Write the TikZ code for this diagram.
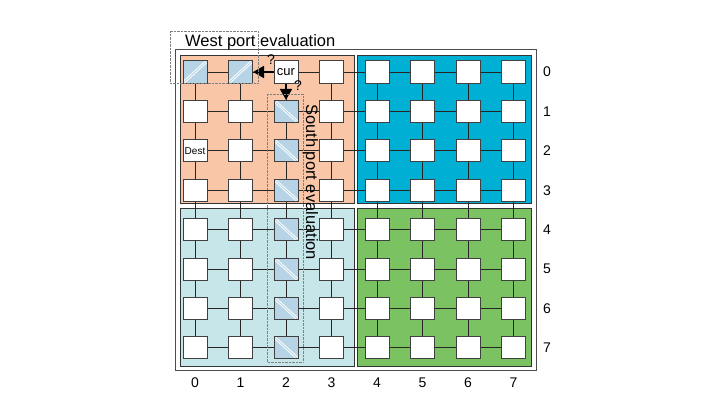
\documentclass[tikz,border=0pt]{standalone}
\usepackage{fontspec}
\setmainfont{Liberation Sans}
\usetikzlibrary{arrows.meta}

\definecolor{nwcolor}{RGB}{250,198,168}
\definecolor{necolor}{RGB}{0,176,212}
\definecolor{swcolor}{RGB}{198,230,234}
\definecolor{secolor}{RGB}{122,194,98}
\definecolor{hatchcolor}{RGB}{182,212,230}

\begin{document}
\begin{tikzpicture}[x=1pt,y=-1pt,
router/.style={
  draw=black!75, line width=1pt,
  fill=white,
  minimum width=24pt, minimum height=22pt,
  inner sep=0pt
},
westhatch/.style={
  router, fill=hatchcolor,
  path picture={
    \draw[white, line width=0.8pt]
      ([xshift=-1.5pt]path picture bounding box.south west) -- ([xshift=-1.5pt]path picture bounding box.north east);
    \draw[white, line width=0.8pt]
      ([xshift=1.5pt]path picture bounding box.south west) -- ([xshift=1.5pt]path picture bounding box.north east);
  }
},
southhatch/.style={
  router, fill=hatchcolor,
  path picture={
    \draw[white, line width=0.8pt]
      ([xshift=-1.5pt]path picture bounding box.north west) -- ([xshift=-1.5pt]path picture bounding box.south east);
    \draw[white, line width=0.8pt]
      ([xshift=1.5pt]path picture bounding box.north west) -- ([xshift=1.5pt]path picture bounding box.south east);
  }
},
link/.style={draw=black!85, line width=0.9pt},
region/.style={draw=black!80, line width=0.9pt},
probe/.style={-{Triangle[length=11pt,width=12pt]}, line width=1.8pt},
evalbox/.style={draw=black!50, densely dotted, thin},
evaltext/.style={font=\fontsize{16.5}{18}\selectfont},
idx/.style={font=\fontsize{14}{16}\selectfont}
]
\useasboundingbox (0,0) rectangle (720,420);

% outer frame and the four quadrants
\draw[draw=black!70, line width=1pt] (175,50) rectangle (536,370);
\draw[region, fill=nwcolor] (180,55) rectangle (354,203);
\draw[region, fill=necolor] (357,55) rectangle (531,203);
\draw[region, fill=swcolor] (180,208) rectangle (354,366);
\draw[region, fill=secolor] (357,208) rectangle (531,366);

% routers
\foreach \j in {0,...,7}{
  \foreach \i in {0,...,7}{
    \def\kind{router}
    \def\txt{}
    \ifnum\i=2 \ifnum\j>0 \def\kind{southhatch}\fi\fi
    \ifnum\j=0 \ifnum\i<2 \def\kind{westhatch}\fi\fi
    \ifnum\i=2 \ifnum\j=0 \def\txt{\fontsize{13}{14}\selectfont cur}\fi\fi
    \ifnum\i=0 \ifnum\j=2 \def\txt{\fontsize{10}{11}\selectfont Dest}\fi\fi
    \node[\kind] (n\i\j) at ({195+45.5*\i},{72+39.4*\j}) {\txt};
  }
}

% mesh links
\foreach \j in {0,...,7}{
  \foreach \i in {0,...,6}{
    \pgfmathtruncatemacro\k{\i+1}
    \draw[link] (n\i\j) -- (n\k\j);
    \draw[link] (n\j\i) -- (n\j\k);
  }
}

% port evaluation from cur
\draw[probe] (n20) -- (n10);
\draw[probe] (n20) -- (n21);
\node[font=\fontsize{14}{15}\selectfont] (qwest) at (271,60) {?};
\node[font=\fontsize{14}{15}\selectfont] (qsouth) at (298,86) {?};

% evaluation windows
\draw[evalbox] (170,31) rectangle (258,83);
\node[evaltext, anchor=base west, inner sep=0pt] (westlbl) at (185,47) {West port evaluation};
\draw[evalbox] (267,94) rectangle (303,362);
\node[evaltext, rotate=-90, anchor=base west, inner sep=0pt] (southlbl) at (306,104) {South port evaluation};

% indices
\foreach \i in {0,...,7}{
  \node[idx] (col\i) at ({195+45.5*\i},383) {\i};
  \node[idx] (row\i) at (547,{72+39.4*\i}) {\i};
}
\end{tikzpicture}
\end{document}
